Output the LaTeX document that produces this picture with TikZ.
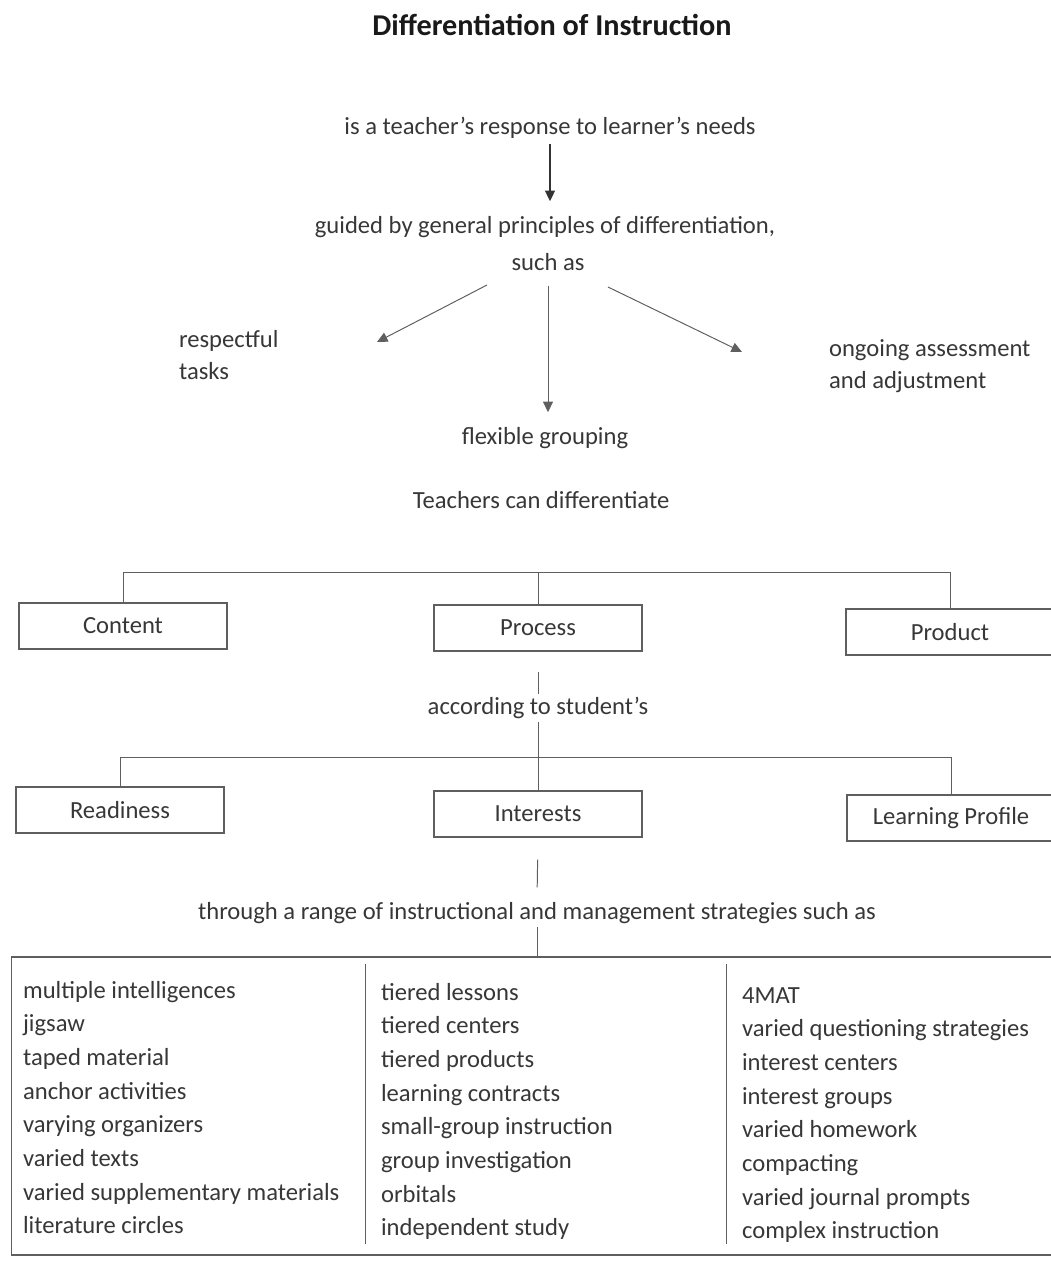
\documentclass[tikz,border=0pt]{standalone}
\usepackage{fontspec}
\setmainfont{Carlito}
\usetikzlibrary{arrows.meta,positioning,calc}
\definecolor{inkgray}{RGB}{55,55,55}
\definecolor{linegray}{RGB}{95,95,95}
\newcommand{\txtsize}{\fontsize{17.5}{22.7}\selectfont}

\begin{document}
\begin{tikzpicture}[x=0.025cm,y=-0.025cm,
    every node/.style={text=inkgray,font=\txtsize,inner sep=2pt},
    box/.style={draw=linegray,line width=0.8pt,minimum width=5.2cm,minimum height=1.15cm},
    entry/.style={anchor=base west},
    link/.style={draw=linegray,line width=0.7pt},
    arr/.style={link,-{Triangle[width=7pt,length=7.5pt]}}]
  \useasboundingbox (0,0) rectangle (1051,1263);
  \clip (0,0) rectangle (1051,1263);

  % heading and principles
  \node[font=\bfseries\fontsize{21.5}{26}\selectfont,text=black!90] (title) at (552,25) {Differentiation of Instruction};
  \node (resp) at (550,128) {is a teacher's response to learner's needs};
  \node (guide) at (545,227) {guided by general principles of differentiation,};
  \node (suchas) at (548,262) {such as};
  \node[anchor=west,align=left] (tasks) at (176,355) {respectful\\tasks};
  \node[anchor=west,align=left] (ongoing) at (826,366) {ongoing assessment\\and adjustment};
  \node (flex) at (545,438) {flexible grouping};
  \node (teach) at (541,500) {Teachers can differentiate};

  \coordinate (lfrom) at (487,285);
  \coordinate (lto) at (377,342);
  \coordinate (rfrom) at (608,287);
  \coordinate (rto) at (742,352);
  \draw[arr,line width=0.9pt,draw=black!80,shorten <=0.05cm,shorten >=0.3cm] (resp.south) -- (resp.south |- guide.north);
  \draw[arr] (lfrom) -- (lto);
  \draw[arr] (rfrom) -- (rto);
  \draw[arr,shorten <=0.3cm,shorten >=0.3cm] (suchas.south) -- (suchas.south |- flex.north);

  % what can be differentiated
  \node[box] (content) at (123,626) {Content};
  \node[box] (process) at (538,628) {Process};
  \node[box] (product) at (950,632) {Product};
  \path (process.north) ++(0,-32) coordinate (br1);
  \draw[link] (content.north) |- (br1) -| (product.north);
  \draw[link] (br1) -- (process.north);

  \node (accord) at (538,708) {according to student's};
  \draw[link,shorten <=0.5cm] (process.south) -- (accord.north);

  % student traits
  \node[box] (ready) at (120,810) {Readiness};
  \node[box] (interest) at (538,814) {Interests};
  \node[box] (profile) at (951,818) {Learning Profile};
  \path (interest.north) ++(0,-33) coordinate (br2);
  \draw[link] (ready.north) |- (br2) -| (profile.north);
  \draw[link] (accord.south) -- (interest.north);

  \node (through) at (537,913) {through a range of instructional and management strategies such as};
  \draw[link,shorten <=0.55cm,shorten >=0.3cm] (interest.south) -- (through.north);

  % strategies table
  \node[draw=linegray,line width=0.8pt,minimum width=26.2cm,minimum height=7.45cm] (tbl) at (536,1106) {};
  \draw[link] (through.south) -- (through.south |- tbl.north);
  \draw[link] (365,964) -- (365,1244);
  \draw[link] (726,964) -- (726,1244);

  \foreach \txt [count=\i from 0] in {multiple intelligences,jigsaw,taped material,anchor activities,varying organizers,varied texts,varied supplementary materials,literature circles}
    \node[entry] (l\i) at (20,998+33.7*\i) {\txt};
  \foreach \txt [count=\i from 0] in {tiered lessons,tiered centers,tiered products,learning contracts,small-group instruction,group investigation,orbitals,independent study}
    \node[entry] (m\i) at (378,1000+33.7*\i) {\txt};
  \foreach \txt [count=\i from 0] in {4MAT,varied questioning strategies,interest centers,interest groups,varied homework,compacting,varied journal prompts,complex instruction}
    \node[entry] (r\i) at (739,1003+33.7*\i) {\txt};
\end{tikzpicture}
\end{document}
